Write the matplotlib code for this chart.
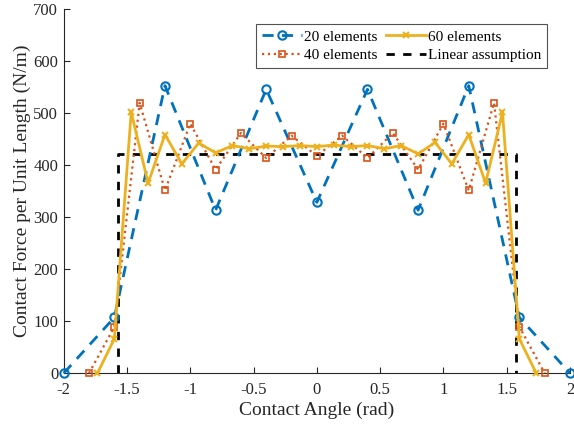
import numpy as np
import matplotlib
matplotlib.use('Agg')
from matplotlib import pyplot as plt

plt.rcParams['font.family'] = ['Liberation Serif', 'DejaVu Serif']
plt.rcParams['mathtext.fontset'] = 'stix'

# 20 elements
x20 = [-2.0, -1.6, -1.2, -0.8, -0.4, 0.0, 0.4, 0.8, 1.2, 1.6, 2.0]
f20 = [0, 107, 552, 313, 545, 328, 545, 313, 552, 107, 0]

# 40 elements
x40 = [-1.8, -1.6, -1.4, -1.2, -1.0, -0.8, -0.6, -0.4, -0.2, 0.0,
       0.2, 0.4, 0.6, 0.8, 1.0, 1.2, 1.4, 1.6, 1.8]
f40 = [0, 89, 519, 351, 479, 391, 461, 413, 456, 417,
       456, 413, 461, 391, 479, 351, 519, 89, 0]

# 60 elements
x60 = [-1.7333, -1.6, -1.4667, -1.3333, -1.2, -1.0667, -0.9333, -0.8, -0.6667,
       -0.5333, -0.4, -0.2667, -0.1333, 0.0, 0.1333, 0.2667, 0.4, 0.5333,
       0.6667, 0.8, 0.9333, 1.0667, 1.2, 1.3333, 1.4667, 1.6, 1.7333]
f60 = [0, 66, 501, 365, 458, 402, 442, 423, 437,
       431, 436, 435, 437, 435, 438, 435, 437, 431,
       437, 421, 443, 402, 458, 365, 501, 66, 0]

# linear assumption
x_lin = [-np.pi / 2, -np.pi / 2, np.pi / 2, np.pi / 2]
f_lin = [0, 420, 420, 0]

blue = '#0072BD'
orange = '#D95319'
yellow = '#EDB120'

fig = plt.figure(figsize=(5.74, 4.28), dpi=100)
ax = fig.add_axes([0.111, 0.128, 0.882, 0.852])

ax.plot(x20, f20, '--o', color=blue, lw=2, ms=6, mfc='none', mew=1.5,
        dashes=(4, 3), label='20 elements', clip_on=False, zorder=3)
ax.plot(x40, f40, ':s', color=orange, lw=1.6, ms=5, mfc='none', mew=1.2,
        label='40 elements', clip_on=False, zorder=3)
ax.plot(x60, f60, '-x', color=yellow, lw=2, ms=5, mew=1.5,
        label='60 elements', clip_on=False, zorder=3)
ax.plot(x_lin, f_lin, '--', color='k', lw=2, dashes=(3, 3),
        label='Linear assumption', zorder=2)

ax.set_xlim(-2, 2)
ax.set_ylim(0, 700)
ax.set_xticks([-2, -1.5, -1, -0.5, 0, 0.5, 1, 1.5, 2])
ax.set_xticklabels(['-2', '-1.5', '-1', '-0.5', '0', '0.5', '1', '1.5', '2'])
ax.set_yticks(np.arange(0, 701, 100))
ax.set_xlabel('Contact Angle (rad)', fontsize=14, color='#262626', labelpad=3)
ax.set_ylabel('Contact Force per Unit Length (N/m)', fontsize=14,
              color='#262626', labelpad=2)

for s in ['top', 'right']:
    ax.spines[s].set_visible(False)
for s in ['left', 'bottom']:
    ax.spines[s].set_color('#262626')
    ax.spines[s].set_linewidth(0.8)
ax.tick_params(direction='in', labelsize=12, colors='#262626', length=4)
ax.tick_params(axis='x', pad=6)
ax.tick_params(axis='y', pad=4)

leg = ax.legend(ncol=2, loc='upper right', bbox_to_anchor=(0.955, 0.958),
                fontsize=11, frameon=True, fancybox=False, borderpad=0.4,
                handlelength=2.6, handletextpad=0.12, columnspacing=0.6,
                labelspacing=0.3, borderaxespad=0)
leg.get_frame().set_edgecolor('#262626')
leg.get_frame().set_linewidth(0.8)

fig.savefig('out.png', dpi=100)
